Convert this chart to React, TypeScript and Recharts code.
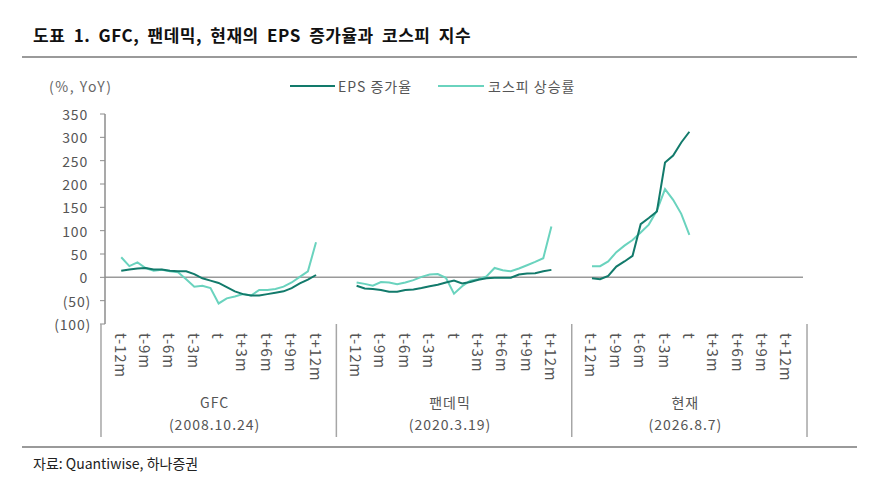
import { LineChart, Line, XAxis, YAxis, ReferenceLine } from 'recharts';

const months = ['t-12m', 't-9m', 't-6m', 't-3m', 't', 't+3m', 't+6m', 't+9m', 't+12m'];
const panels = ['GFC', '팬데믹', '현재'];
const panelDates = ['(2008.10.24)', '(2020.3.19)', '(2026.8.7)'];

// monthly values, t-12m .. t+12m
const epsGfc = [14, 17, 19, 20, 17, 17, 14, 13, 13, 7, -2, -7, -12, -21, -30, -36, -39, -39, -36, -33, -30, -23, -13, -5, 5];
const kospiGfc = [43, 24, 32, 20, 14, 16, 13, 11, -4, -20, -18, -23, -56, -45, -41, -36, -39, -27, -27, -25, -20, -11, 1, 13, 75];
const epsPandemic = [-18, -24, -25, -27, -31, -31, -27, -26, -23, -19, -16, -11, -7, -13, -10, -5, -2, -1, -1, -1, 6, 8, 9, 13, 16];
const kospiPandemic = [-11, -14, -18, -10, -11, -15, -11, -6, 1, 6, 7, -1, -35, -19, -7, -4, 2, 20, 15, 13, 19, 26, 33, 41, 109];
const epsNow = [-2, -4, 3, 23, 34, 46, 114, 127, 141, 246, 261, 289, 312];
const kospiNow = [24, 24, 34, 54, 68, 80, 96, 113, 143, 189, 166, 136, 91];

const yTicks = [-100, -50, 0, 50, 100, 150, 200, 250, 300, 350];

const epsSets = [epsGfc, epsPandemic, epsNow];
const kospiSets = [kospiGfc, kospiPandemic, kospiNow];

const SLOTS = 29; // 2 empty + 25 months + 2 empty
const PAD = 2;
const PLOT_LEFT = 105;
const PLOT_RIGHT = 803;
const PLOT_TOP = 114;
const PLOT_BOTTOM = 324;
const W = 874;
const H = 494;
const band = (PLOT_RIGHT - PLOT_LEFT) / (SLOTS * panels.length);

const FONT = '"Noto Sans CJK KR", "Noto Sans", sans-serif';
const DARK = '#127a6b';
const LIGHT = '#6ad3be';

type Row = { key: string; eps: number | null; kospi: number | null };
const meta: Record<string, { panel: number; slot: number; label: string }> = {};

const data: Row[] = [];
panels.forEach((_, p) => {
  for (let s = 0; s < SLOTS; s++) {
    const i = s - PAD;
    const key = `${p}-${s}`;
    const label = i >= 0 && i <= 24 && i % 3 === 0 ? months[i / 3] : '';
    meta[key] = { panel: p, slot: s, label };
    data.push({
      key,
      eps: i >= 0 && i < epsSets[p].length ? epsSets[p][i] : null,
      kospi: i >= 0 && i < kospiSets[p].length ? kospiSets[p][i] : null,
    });
  }
});

function XTick(props: any) {
  const { x, y, payload } = props;
  const m = meta[payload.value];
  if (!m) return null;
  const parts: any[] = [];
  if (m.slot === 0) {
    parts.push(<line key="sl" x1={x - band / 2} x2={x - band / 2} y1={y} y2={y + 113} stroke="#a6a6a6" strokeWidth={1.5} />);
  }
  if (m.slot === SLOTS - 1 && m.panel === panels.length - 1) {
    parts.push(<line key="sr" x1={x + band / 2} x2={x + band / 2} y1={y} y2={y + 113} stroke="#a6a6a6" strokeWidth={1.5} />);
  }
  if (m.label) {
    parts.push(
      <text key="t" x={x} y={y + 9} transform={`rotate(90, ${x}, ${y + 9})`} textAnchor="start" dominantBaseline="central" fontSize={15} letterSpacing={0.8} fill="#555" fontFamily={FONT}>
        {m.label}
      </text>
    );
  }
  if (m.slot === 14) {
    parts.push(
      <text key="g1" x={x - band / 2} y={y + 78} textAnchor="middle" dominantBaseline="central" fontSize={14} letterSpacing={1} fill="#555" fontFamily={FONT}>
        {panels[m.panel]}
      </text>,
      <text key="g2" x={x - band / 2} y={y + 100} textAnchor="middle" dominantBaseline="central" fontSize={14} letterSpacing={1} fill="#555" fontFamily={FONT}>
        {panelDates[m.panel]}
      </text>
    );
  }
  return <g>{parts}</g>;
}

function YTick(props: any) {
  const { x, y, payload } = props;
  const v = payload.value as number;
  const txt = v < 0 ? `(${Math.abs(v)})` : String(v);
  return (
    <text x={v < 0 ? x - 9 : x - 12} y={y} textAnchor="end" dominantBaseline="central" fontSize={14} letterSpacing={0.8} fill="#555" fontFamily={FONT}>
      {txt}
    </text>
  );
}

const legendText = { position: 'absolute' as const, top: 76, fontSize: 14, letterSpacing: 1, color: '#555', lineHeight: '20px', whiteSpace: 'nowrap' as const };

export default function App() {
  return (
    <div style={{ position: 'absolute', left: 0, top: 0, width: W, height: H, background: '#fff', fontFamily: FONT }}>
      <div style={{ position: 'absolute', left: 33, top: 24, fontSize: 17, fontWeight: 700, letterSpacing: 0.5, wordSpacing: 4, color: '#111', whiteSpace: 'nowrap', lineHeight: '22px' }}>
        도표 1. GFC, 팬데믹, 현재의 EPS 증가율과 코스피 지수
      </div>
      <div style={{ position: 'absolute', left: 22, top: 56, width: 835, height: 2, background: '#9a9a9a' }} />
      <div style={{ ...legendText, left: 49, color: '#666', letterSpacing: 1.5 }}>(%, YoY)</div>
      <div style={{ position: 'absolute', left: 290, top: 85, width: 45, height: 2, background: DARK }} />
      <div style={{ ...legendText, left: 338 }}>EPS 증가율</div>
      <div style={{ position: 'absolute', left: 438, top: 85, width: 46, height: 2, background: LIGHT }} />
      <div style={{ ...legendText, left: 488 }}>코스피 상승률</div>

      <div style={{ position: 'absolute', left: 0, top: 0 }}>
        <LineChart
          width={W}
          height={H}
          data={data}
          margin={{ top: PLOT_TOP, right: W - PLOT_RIGHT, bottom: H - PLOT_BOTTOM - 113, left: PLOT_LEFT - 60 }}
        >
          <XAxis dataKey="key" interval={0} axisLine={false} tickLine={false} tickSize={0} tickMargin={0} height={113} tick={<XTick />} />
          <YAxis
            width={60}
            domain={[-100, 350]}
            ticks={yTicks}
            allowDataOverflow
            axisLine={{ stroke: '#8c8c8c', strokeWidth: 1.5 }}
            tickLine={{ stroke: '#8c8c8c' }}
            tickSize={5}
            tickMargin={0}
            tick={<YTick />}
          />
          <ReferenceLine y={0} stroke="#9a9a9a" strokeWidth={1.5} />
          <Line dataKey="kospi" stroke={LIGHT} strokeWidth={2} dot={false} isAnimationActive={false} />
          <Line dataKey="eps" stroke={DARK} strokeWidth={2} dot={false} isAnimationActive={false} />
        </LineChart>
      </div>

      <div style={{ position: 'absolute', left: 22, top: 446, width: 835, height: 2, background: '#9a9a9a' }} />
      <div style={{ position: 'absolute', left: 33, top: 453, fontSize: 14, color: '#222', lineHeight: '20px', whiteSpace: 'nowrap' }}>자료: Quantiwise, 하나증권</div>
    </div>
  );
}
